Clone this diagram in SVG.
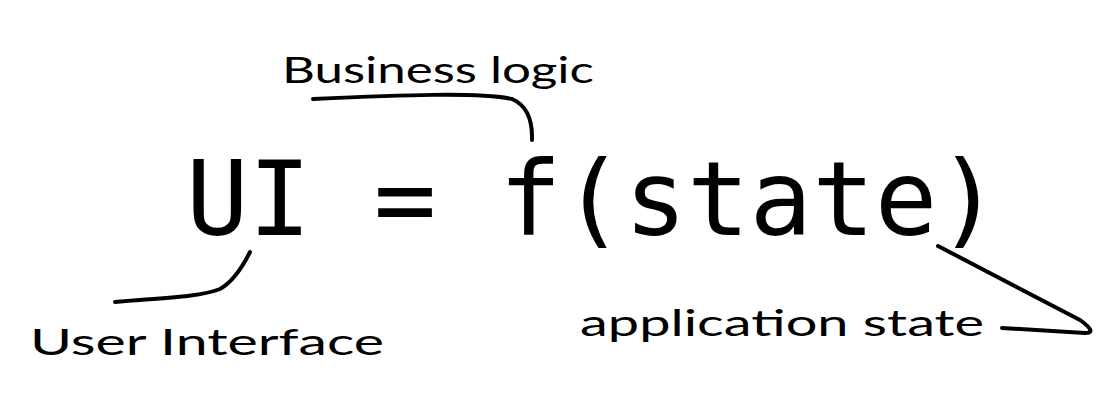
<svg xmlns="http://www.w3.org/2000/svg" width="1116" height="411" viewBox="0 0 1116 411">
<style>
.main{font-family:"DejaVu Sans Mono","Liberation Mono",monospace;font-size:104px;fill:#000}
.hand{font-family:"Lato","Noto Sans",sans-serif;font-size:36px;fill:#000}
.conn{fill:none;stroke:#000;stroke-width:4;stroke-linecap:round;stroke-linejoin:round}
</style>
<rect width="1116" height="411" fill="#fff"/>
<g id="formula"><text class="main" x="186" y="235">UI = f(state)</text></g>
<g id="business-logic"><text class="hand" x="282" y="83" textLength="312" lengthAdjust="spacingAndGlyphs">Business logic</text></g>
<g id="user-interface"><text class="hand" x="30" y="355" textLength="354" lengthAdjust="spacingAndGlyphs">User Interface</text></g>
<g id="application-state"><text class="hand" x="580" y="336" textLength="404" lengthAdjust="spacingAndGlyphs">application state</text></g>
<g id="connectors">
<path class="conn" d="M313,99 C400,95 480,92 512,99 Q533,108 532,140"/>
<path class="conn" d="M115,302 C160,298 200,297 220,289 Q236,280 250,252"/>
<path class="conn" d="M938,246 L1080,320 Q1098,333 1085,333 L1002,328"/>
</g>
</svg>
